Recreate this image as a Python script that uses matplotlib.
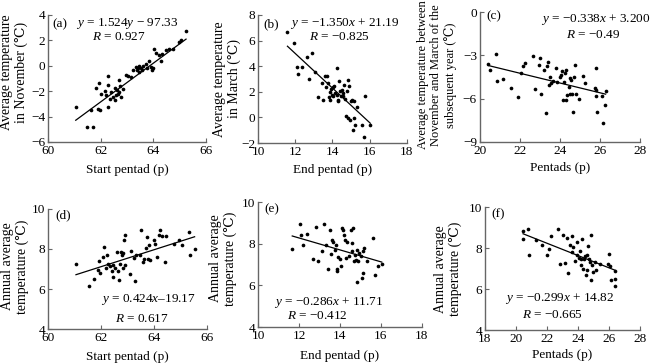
import matplotlib
matplotlib.use("Agg")
import matplotlib.pyplot as plt

plt.rcParams["font.family"] = ["Liberation Serif", "DejaVu Serif", "DejaVu Sans"]
plt.rcParams["mathtext.fontset"] = "custom"
plt.rcParams["mathtext.rm"] = "Liberation Serif"
plt.rcParams["mathtext.it"] = "Liberation Serif:italic"

# (a) start pentad vs November temperature
xa = [61.05, 61.48, 61.70, 61.64, 61.83, 61.92, 61.90, 61.96, 62.02, 62.18, 62.20, 62.27, 62.27, 62.27,
      62.34, 62.40, 62.46, 62.53, 62.53, 62.59, 62.61, 62.65, 62.69, 62.71, 62.74, 62.78, 62.84, 62.97,
      63.03, 63.16, 63.24, 63.35, 63.37, 63.41, 63.45, 63.47, 63.54, 63.57, 63.62, 63.70, 63.75, 63.83,
      63.91, 63.95, 63.98, 64.04, 64.10, 64.20, 64.27, 64.33, 64.48, 64.61, 64.73, 64.99, 65.05, 65.24]
ya = [-3.24, -4.84, -4.84, -3.50, -1.79, -1.39, -3.37, -3.50, -2.24, -2.00, -2.30, -0.82, -1.53, -3.24,
      -2.58, -2.05, -2.45, -2.71, -1.79, -2.32, -1.92, -2.24, -1.13, -2.05, -1.61, -2.50, -1.87, -0.74,
      -0.82, -0.92, -0.34, -0.08, -0.34, -0.21, -0.03, -0.47, -0.16, -0.34, -0.03, 0.13, -0.21, 0.39,
      -0.08, -0.34, -0.21, 1.29, 0.97, 0.84, 0.39, 0.92, 1.24, 1.29, 1.29, 1.89, 2.03, 2.74]

# (b) end pentad vs March temperature
xb = [11.58, 11.92, 12.10, 12.16, 12.34, 12.61, 12.75, 12.91, 13.06, 13.24, 13.42, 13.51, 13.60, 13.65,
      13.72, 13.78, 13.81, 13.87, 13.87, 13.90, 13.96, 14.01, 14.05, 14.08, 14.14, 14.23, 14.26, 14.32,
      14.32, 14.37, 14.41, 14.46, 14.50, 14.55, 14.59, 14.64, 14.68, 14.73, 14.77, 14.82, 14.86, 14.91,
      14.95, 14.98, 15.04, 15.09, 15.13, 15.16, 15.22, 15.31, 15.58, 15.70, 15.76, 16.03]
yb = [6.65, 5.79, 3.92, 3.40, 3.92, 4.75, 2.99, 5.01, 3.51, 1.58, 2.68, 1.38, 3.25, 2.36,
      3.25, 2.68, 1.58, 1.95, 1.38, 2.21, 1.77, 2.36, 1.64, 2.47, 1.90, 3.84, 1.77, 1.38,
      1.25, 2.81, 2.03, 1.64, 2.16, 1.90, 1.64, 2.55, 1.43, 0.08, 2.03, -0.05, 2.94, 2.47,
      -0.18, 1.25, 1.38, -0.96, -0.05, 1.25, -0.57, 0.81, -0.57, -1.53, 1.69, -0.57]

# (c) pentads vs Nov-Mar temperature
xc = [20.42, 20.50, 20.80, 20.87, 21.17, 21.58, 21.92, 22.05, 22.17, 22.25, 22.67, 22.75, 22.97, 23.03,
      23.08, 23.20, 23.30, 23.37, 23.42, 23.47, 23.50, 23.58, 23.67, 23.80, 23.87, 24.00, 24.05, 24.13,
      24.17, 24.22, 24.27, 24.33, 24.33, 24.38, 24.45, 24.50, 24.53, 24.58, 24.63, 24.67, 24.70, 24.75,
      24.83, 24.97, 25.17, 25.25, 25.75, 25.80, 25.83, 25.83, 25.87, 26.13, 26.17, 26.25, 26.30]
yc = [-3.60, -4.05, -2.91, -4.81, -4.65, -5.27, -5.89, -4.19, -3.73, -3.50, -3.05, -5.34, -3.66, -3.21,
      -5.66, -4.01, -6.98, -3.73, -3.43, -5.04, -4.51, -4.92, -4.81, -3.89, -4.88, -4.51, -4.35, -4.12,
      -6.07, -4.88, -4.19, -4.01, -6.07, -5.72, -5.20, -4.58, -5.66, -4.69, -5.66, -6.94, -4.51, -3.66,
      -5.66, -6.02, -4.42, -4.92, -5.27, -5.38, -3.89, -5.84, -6.94, -5.84, -7.72, -6.41, -5.50]

# (d) start pentad vs annual temperature
xd = [61.05, 61.55, 61.74, 61.89, 61.92, 61.96, 62.08, 62.11, 62.18, 62.23, 62.27, 62.34, 62.40, 62.44,
      62.46, 62.53, 62.61, 62.65, 62.67, 62.71, 62.74, 62.78, 62.82, 62.84, 62.87, 62.88, 62.90, 63.07,
      63.12, 63.22, 63.28, 63.32, 63.47, 63.50, 63.57, 63.60, 63.70, 63.72, 63.75, 63.79, 63.83, 63.98,
      64.04, 64.10, 64.17, 64.23, 64.29, 64.42, 64.46, 64.73, 64.92, 65.05, 65.30, 65.34, 65.52]
yd = [7.27, 6.15, 6.51, 6.93, 7.39, 6.82, 7.60, 8.09, 7.05, 7.72, 7.27, 7.15, 6.88, 7.22,
      6.60, 7.05, 7.85, 6.88, 6.46, 7.27, 7.85, 7.72, 7.82, 7.05, 8.44, 8.69, 7.22, 6.77,
      7.89, 7.55, 6.38, 7.69, 7.72, 8.94, 7.35, 7.49, 8.06, 8.61, 7.49, 8.19, 7.44, 8.44,
      8.27, 7.60, 8.69, 8.94, 8.66, 7.35, 8.66, 8.27, 8.44, 8.19, 8.86, 7.72, 8.02]

# (e) end pentad vs annual temperature
xe = [11.67, 12.04, 12.12, 12.20, 12.37, 12.69, 12.82, 12.94, 13.10, 13.22, 13.31, 13.43, 13.51, 13.54,
      13.59, 13.67, 13.76, 13.80, 13.84, 13.87, 13.92, 14.00, 14.03, 14.08, 14.13, 14.20, 14.24, 14.29,
      14.36, 14.46, 14.52, 14.57, 14.61, 14.65, 14.69, 14.73, 14.76, 14.82, 14.85, 14.90, 14.95, 15.01,
      15.06, 15.11, 15.14, 15.18, 15.34, 15.60, 15.71, 15.84, 16.04]
ye = [7.76, 8.97, 8.42, 7.95, 8.45, 7.28, 8.82, 7.16, 7.66, 8.97, 7.92, 6.81, 8.66, 7.51,
      8.18, 8.07, 7.71, 7.95, 6.81, 6.68, 7.35, 7.28, 6.92, 8.74, 8.66, 8.42, 8.18, 7.32,
      8.10, 7.39, 8.66, 8.03, 7.63, 8.74, 7.19, 7.47, 7.24, 7.71, 6.18, 7.16, 7.55, 7.39,
      6.37, 7.63, 6.60, 7.79, 7.16, 8.29, 6.49, 6.92, 7.03]

# (f) pentads vs annual temperature
xf = [20.47, 20.49, 20.80, 20.86, 21.29, 21.66, 22.00, 22.15, 22.30, 22.73, 22.86, 23.08, 23.16, 23.33,
      23.38, 23.51, 23.60, 23.66, 23.72, 23.81, 23.94, 23.98, 24.09, 24.15, 24.19, 24.24, 24.30, 24.37,
      24.41, 24.45, 24.52, 24.58, 24.62, 24.67, 24.73, 24.80, 24.84, 24.88, 24.95, 25.01, 25.10, 25.16,
      25.44, 25.96, 26.02, 26.09, 26.13, 26.39, 26.41, 26.39]
yf = [8.82, 8.43, 8.91, 7.68, 8.38, 8.17, 7.68, 7.97, 8.59, 8.91, 7.24, 8.62, 7.29, 8.49,
      6.81, 8.17, 8.59, 7.81, 8.05, 7.36, 8.30, 7.65, 7.52, 7.84, 7.16, 7.49, 8.43, 6.97,
      7.45, 7.62, 6.68, 7.68, 6.92, 8.10, 7.49, 7.32, 6.43, 8.65, 7.16, 6.84, 7.32, 6.92,
      7.24, 7.24, 7.73, 7.13, 6.43, 6.87, 6.51, 6.16]

# fitted lines: slope, intercept
slopes = [1.524, -1.350, -0.338, 0.424, -0.286, -0.299]
intercepts = [-97.33, 21.19, 3.200, -19.17, 11.71, 14.82]

eq_texts = [r"$y$ = 1.524$y$ − 97.33", r"$y$ = −1.350$x$ + 21.19", r"$y$ = −0.338$x$ + 3.200",
            r"$y$ = 0.424$x$–19.17", r"$y$ = −0.286$x$ + 11.71", r"$y$ = −0.299$x$ + 14.82"]
r_texts = [r"$R$ = 0.927", r"$R$ = −0.825", r"$R$ = −0.49",
           r"$R$ = 0.617", r"$R$ = −0.412", r"$R$ = −0.665"]
panel_tags = ["(a)", "(b)", "(c)", "(d)", "(e)", "(f)"]
xlabels = ["Start pentad (p)", "End pentad (p)", "Pentads (p)",
           "Start pentad (p)", "End pentad (p)", "Pentads (p)"]
ylabels = ["Average temperature\nin November (℃)",
           "Average temperature\nin March (℃)",
           "Average temperature between\nNovember and March of the\nsubsequent year (℃)",
           "Annual average\ntemperature (℃)",
           "Annual average\ntemperature (℃)",
           "Annual average\ntemperature (℃)"]
xlims = [(60, 66), (10, 18), (20, 28), (60, 66), (10, 18), (18, 28)]
ylims = [(-6, 4), (-2, 8), (-9, 0), (4, 10), (4, 10), (4, 10)]
ysteps = [2, 2, 3, 2, 2, 2]

xs = [xa, xb, xc, xd, xe, xf]
ys = [ya, yb, yc, yd, ye, yf]

# layout (figure fractions) and text placement
boxes = [(0.074, 0.610, 0.243, 0.349), (0.397, 0.607, 0.229, 0.352), (0.738, 0.610, 0.246, 0.357),
         (0.074, 0.096, 0.245, 0.330), (0.397, 0.101, 0.252, 0.344), (0.746, 0.093, 0.238, 0.338)]
tag_pos = [(0.03, 0.93), (0.035, 0.93), (0.04, 0.97), (0.045, 0.95), (0.04, 0.945), (0.045, 0.94)]
eq_pos = [(0.50, 0.93), (0.585, 0.93), (0.725, 0.94), (0.63, 0.25), (0.43, 0.20), (0.485, 0.26)]
r_pos = [(0.45, 0.83), (0.545, 0.83), (0.71, 0.82), (0.59, 0.083), (0.365, 0.087), (0.44, 0.12)]
# right edge of each y label (axes fraction) and vertical centre
ylab_pos = [(-0.127, 0.55), (-0.114, 0.5), (-0.144, 0.515), (-0.12, 0.52), (-0.128, 0.55), (-0.148, 0.5)]
ylab_fs = [10, 10, 9, 10, 10, 10]
xlab_y = [-0.173, -0.164, -0.154, -0.183, -0.18, -0.154]

fig = plt.figure(figsize=(6.5, 3.64), dpi=100)
fs = 9.5
for i in range(6):
    ax = fig.add_axes(boxes[i])
    ax.scatter(xs[i], ys[i], s=7, color="black", linewidths=0, zorder=3)
    x0, x1 = min(xs[i]), max(xs[i])
    ax.plot([x0, x1], [slopes[i] * x0 + intercepts[i], slopes[i] * x1 + intercepts[i]],
            color="black", linewidth=0.9)
    ax.set_xlim(*xlims[i])
    ax.set_ylim(*ylims[i])
    ax.set_xticks(range(xlims[i][0], xlims[i][1] + 1, 2))
    ax.set_yticks(range(ylims[i][0], ylims[i][1] + 1, ysteps[i]))
    for s in ["top", "right"]:
        ax.spines[s].set_visible(False)
    for s in ["left", "bottom"]:
        ax.spines[s].set_color("#666666")
        ax.spines[s].set_linewidth(1.0)
    ax.tick_params(direction="in", length=3, width=0.8, color="#666666", labelsize=fs, pad=2)
    ax.set_xlabel(xlabels[i], fontsize=fs)
    ax.xaxis.set_label_coords(0.5, xlab_y[i])
    ax.set_ylabel(ylabels[i], fontsize=ylab_fs[i], linespacing=1.15)
    ax.yaxis.set_label_coords(*ylab_pos[i])
    ax.text(tag_pos[i][0], tag_pos[i][1], panel_tags[i], transform=ax.transAxes,
            fontsize=fs, ha="left", va="center")
    ax.text(eq_pos[i][0], eq_pos[i][1], eq_texts[i], transform=ax.transAxes,
            fontsize=fs, ha="center", va="center")
    ax.text(r_pos[i][0], r_pos[i][1], r_texts[i], transform=ax.transAxes,
            fontsize=fs, ha="center", va="center")

plt.savefig("out.png", dpi=100)
